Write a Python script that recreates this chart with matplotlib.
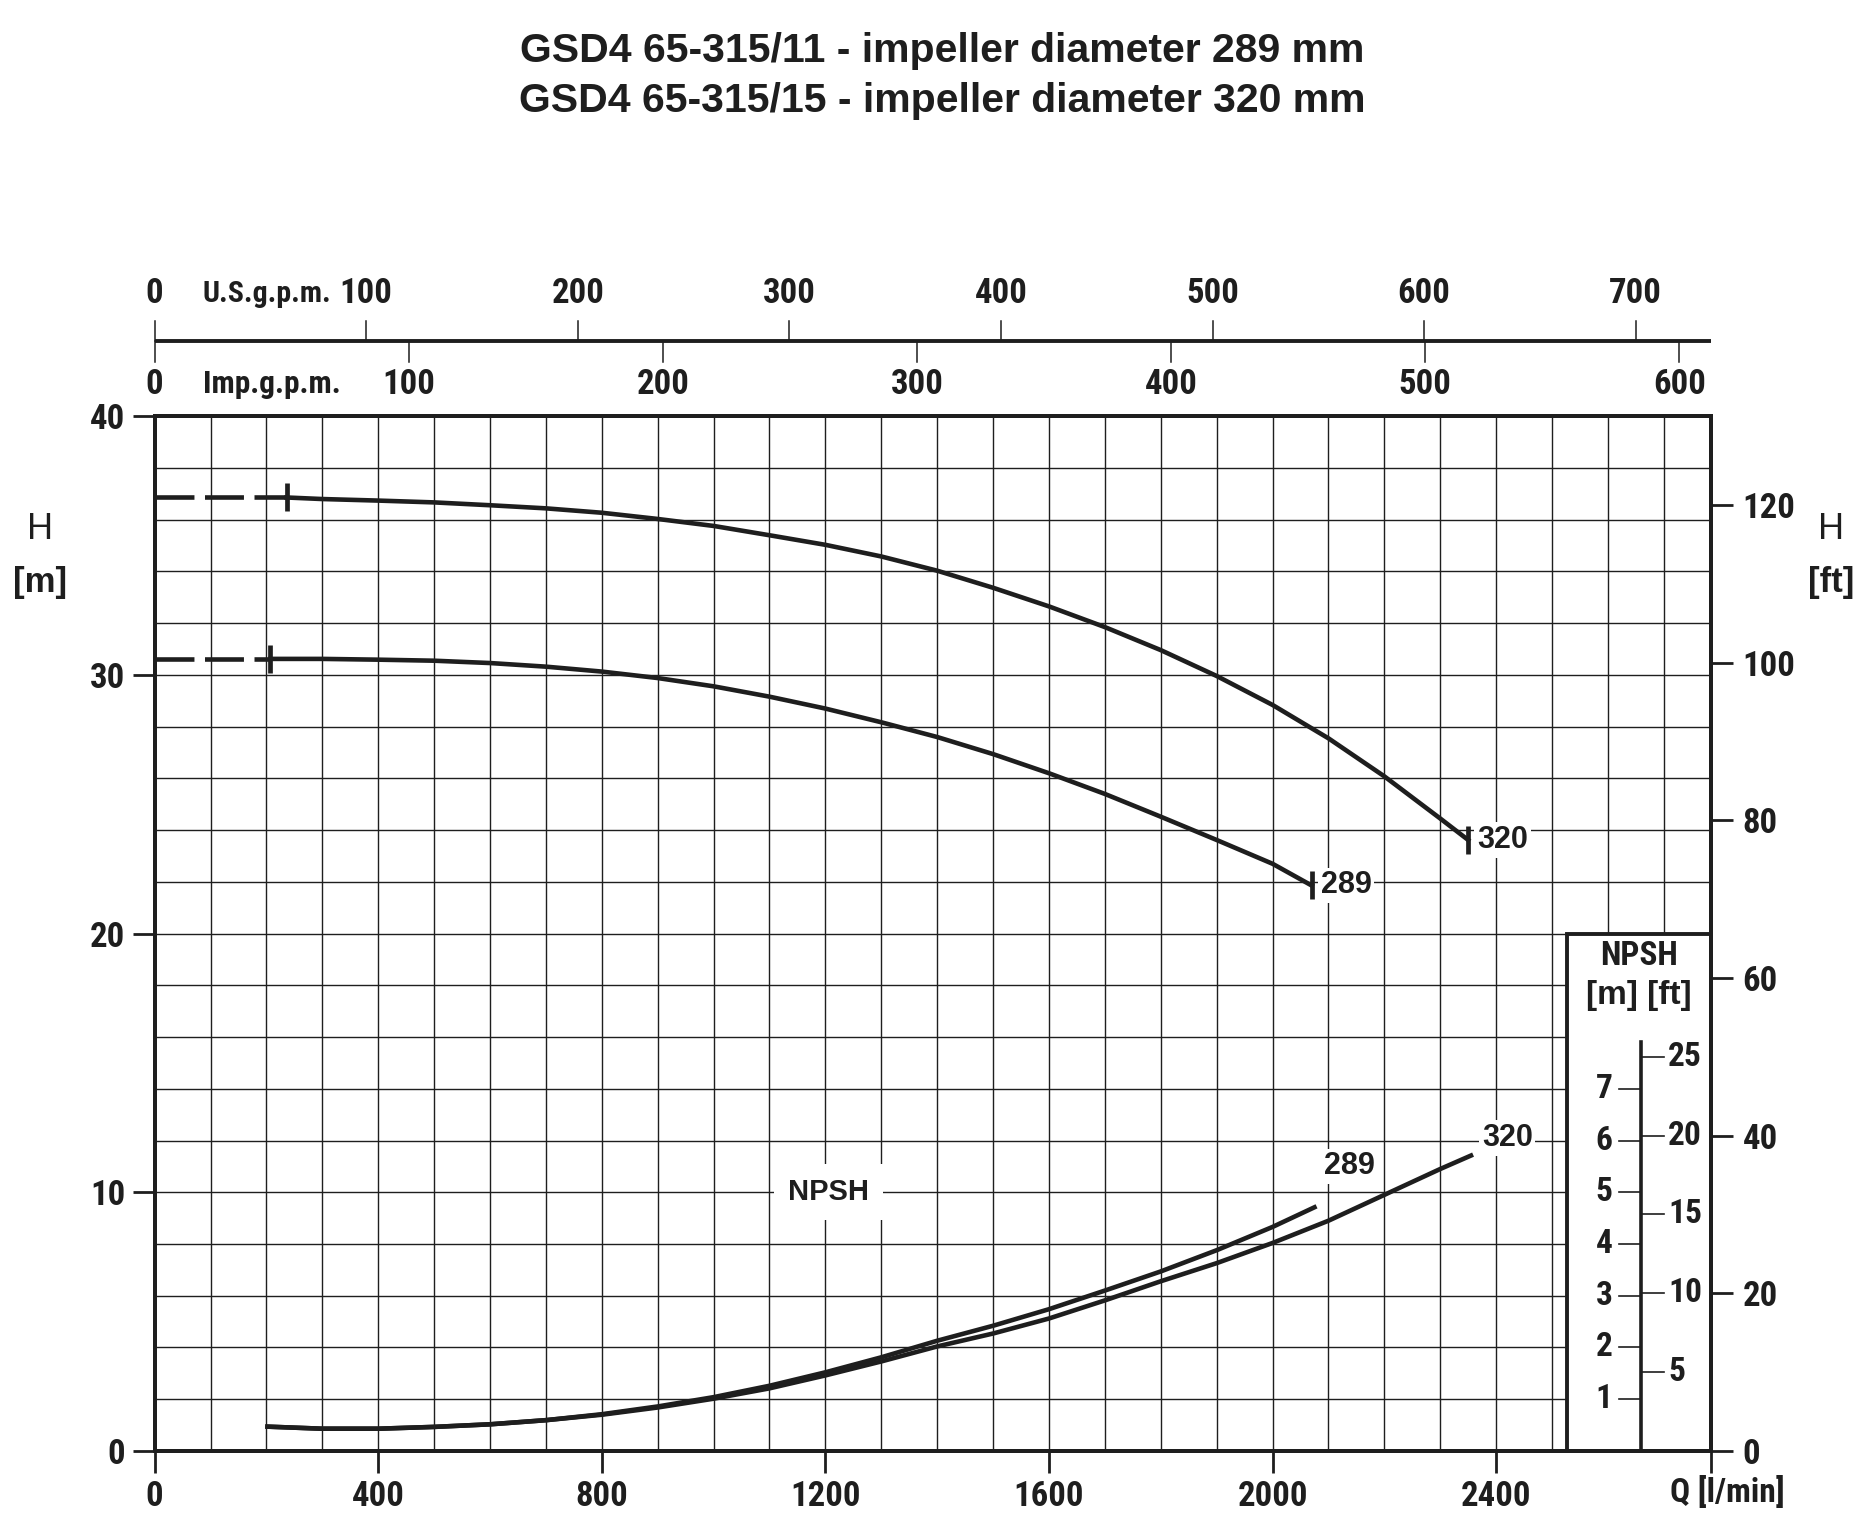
"""
Pump performance chart GSD4 65-315: H-Q and NPSH curves for two impeller
diameters, with U.S./Imp. gpm scales on top and feet scales on the right.
"""

import matplotlib
matplotlib.use("Agg")
import matplotlib.pyplot as plt
from matplotlib import font_manager
from matplotlib.patches import Rectangle
from matplotlib.ticker import MultipleLocator

# ---------------------------------------------------------------- data
TITLE_LINES = ["GSD4 65-315/11 - impeller diameter 289 mm",
               "GSD4 65-315/15 - impeller diameter 320 mm"]

# H-Q curve, impeller 320 mm  (Q in l/min, H in m)
Q_320 = [236, 300, 400, 500, 600, 700, 800, 900, 1000, 1100, 1200, 1300,
         1400, 1500, 1600, 1700, 1800, 1900, 2000, 2100, 2200, 2300, 2350]
H_320 = [36.86, 36.80, 36.74, 36.67, 36.56, 36.44, 36.27, 36.03, 35.76,
         35.40, 35.03, 34.58, 34.03, 33.37, 32.65, 31.85, 30.96, 29.96,
         28.84, 27.55, 26.08, 24.45, 23.62]

# H-Q curve, impeller 289 mm
Q_289 = [207, 300, 400, 500, 600, 700, 800, 900, 1000, 1100, 1200, 1300,
         1400, 1500, 1600, 1700, 1800, 1900, 2000, 2070]
H_289 = [30.62, 30.62, 30.59, 30.55, 30.46, 30.32, 30.13, 29.88, 29.56,
         29.16, 28.70, 28.17, 27.60, 26.94, 26.20, 25.40, 24.52, 23.62,
         22.70, 21.86]

# NPSH curves (NPSH in m)
QN_289 = [202, 300, 400, 500, 600, 700, 800, 900, 1000, 1100, 1200, 1300,
          1400, 1500, 1600, 1700, 1800, 1900, 2000, 2075]
NPSH_289 = [0.47, 0.43, 0.43, 0.465, 0.515, 0.595, 0.71, 0.86, 1.04, 1.26,
            1.52, 1.81, 2.13, 2.42, 2.74, 3.10, 3.47, 3.88, 4.33, 4.71]
QN_320 = [202, 300, 400, 500, 600, 700, 800, 900, 1000, 1100, 1200, 1300,
          1400, 1500, 1600, 1700, 1800, 1900, 2000, 2100, 2200, 2300, 2355]
NPSH_320 = [0.47, 0.43, 0.43, 0.465, 0.515, 0.595, 0.70, 0.84, 1.01, 1.21,
            1.46, 1.73, 2.02, 2.27, 2.56, 2.91, 3.28, 3.63, 4.02, 4.45,
            4.95, 5.45, 5.71]

Q_TICKS = [0, 400, 800, 1200, 1600, 2000, 2400]
H_TICKS = [0, 10, 20, 30, 40]
FT_TICKS = [0, 20, 40, 60, 80, 100, 120]
US_GPM_TICKS = [0, 100, 200, 300, 400, 500, 600, 700]
IMP_GPM_TICKS = [0, 100, 200, 300, 400, 500, 600]
NPSH_M_TICKS = [1, 2, 3, 4, 5, 6, 7]
NPSH_FT_TICKS = [5, 10, 15, 20, 25]

Q_MAX = 2784
H_MAX = 40
M_PER_FT = 0.3048
L_PER_US_GAL = 3.78541
L_PER_IMP_GAL = 4.54609
NPSH_SCALE = 2.0          # 1 m NPSH is drawn as 2 m on the H axis

INK = "#1e1e1e"


# ---------------------------------------------------------------------------
def pick_fonts():
    """Narrow face for the scale numbers, plain Arial-like face for the rest."""
    fonts = font_manager.fontManager.ttflist
    names = {f.name for f in fonts}
    wide = "Liberation Sans" if "Liberation Sans" in names else "DejaVu Sans"
    for cand in ["Liberation Sans Narrow", "Roboto Condensed",
                 "Open Sans Condensed"]:
        if cand in names:
            return cand, "normal", wide
    for f in fonts:
        if f.name == "DejaVu Sans" and f.stretch == "condensed":
            return "DejaVu Sans", "condensed", wide
    return wide, "normal", wide


NARROW, STRETCH, WIDE = pick_fonts()
plt.rcParams["font.family"] = NARROW
plt.rcParams["font.stretch"] = STRETCH
plt.rcParams["font.weight"] = "bold"
plt.rcParams["text.color"] = INK

NUM_SIZE = 25 if NARROW != WIDE else 20


# ---------------------------------------------------------------------------
def main():
    fig = plt.figure(figsize=(18.65, 15.27), dpi=100)
    ax = fig.add_axes([0.0829, 0.0498, 0.8344, 0.6776])
    ax.set_xlim(0, Q_MAX)
    ax.set_ylim(0, H_MAX)

    # main ticks + grid
    ax.set_xticks(Q_TICKS + [Q_MAX])
    ax.set_xticklabels([str(q) for q in Q_TICKS] + [""])
    ax.set_yticks(H_TICKS)
    ax.xaxis.set_minor_locator(MultipleLocator(100))
    ax.yaxis.set_minor_locator(MultipleLocator(2))
    ax.grid(which="both", color=INK, lw=1.0)
    ax.tick_params(which="minor", length=0)
    ax.tick_params(which="major", direction="out", length=16, width=2.0,
                   pad=5, labelsize=NUM_SIZE, colors=INK)
    for sp in ax.spines.values():
        sp.set_linewidth(2.8)
        sp.set_color(INK)

    # feet scale on the right
    ax2 = ax.twinx()
    ax2.set_ylim(0, H_MAX / M_PER_FT)
    ax2.set_yticks(FT_TICKS)
    ax2.tick_params(direction="out", length=16, width=2.0, pad=7,
                    labelsize=NUM_SIZE, colors=INK)
    for sp in ax2.spines.values():
        sp.set_linewidth(2.8)
        sp.set_color(INK)

    # ------------------------------------------------------------ H-Q curves
    lw = 3.3
    for q, h in [(Q_320, H_320), (Q_289, H_289)]:
        ax.plot([0, q[0]], [h[0], h[0]], color=INK, lw=lw,
                dashes=(8.5, 2.3), solid_capstyle="butt")
        ax.plot(q, h, color=INK, lw=lw, zorder=3)
        ax.plot([q[0], q[-1]], [h[0], h[-1]], ls="none", marker="|",
                ms=20, mew=3.4, color=INK, zorder=3)

    box = dict(facecolor="white", edgecolor="none", pad=2)
    ax.text(Q_289[-1] + 16, H_289[-1], "289", ha="left", va="center",
            fontsize=22, family=WIDE, bbox=box, zorder=4)
    ax.text(Q_320[-1] + 16, H_320[-1], "320", ha="left", va="center",
            fontsize=22, family=WIDE, bbox=box, zorder=4)

    # ------------------------------------------------------------ NPSH curves
    ax.plot(QN_320, [v * NPSH_SCALE for v in NPSH_320], color=INK, lw=lw, zorder=3)
    ax.plot(QN_289, [v * NPSH_SCALE for v in NPSH_289], color=INK, lw=lw, zorder=3)
    ax.text(2138, 11.0, "289", ha="center", va="center", fontsize=22,
            family=WIDE, bbox=box, zorder=4)
    ax.text(2420, 12.1, "320", ha="center", va="center", fontsize=22,
            family=WIDE, bbox=box, zorder=4)
    ax.text(1205, 10.0, "NPSH", ha="center", va="center", fontsize=21,
            family=WIDE, bbox=dict(facecolor="white", edgecolor="none", pad=10),
            zorder=4)

    # ------------------------------------------------------------ NPSH scale box
    box_left, inner_x = 2527, 2660
    ax.add_patch(Rectangle((box_left, 0), Q_MAX - box_left, 20,
                           facecolor="white", edgecolor=INK, lw=2.8, zorder=1.8))
    ax.plot([inner_x, inner_x], [0, 15.8], color=INK, lw=2.6, zorder=2.5)
    for m in NPSH_M_TICKS:
        y = m * NPSH_SCALE
        ax.plot([inner_x - 40, inner_x], [y, y], color=INK, lw=1.2, zorder=2.5)
        ax.text(inner_x - 52, y, str(m), ha="right", va="center",
                fontsize=NUM_SIZE - 1)
    for ft in NPSH_FT_TICKS:
        y = ft * M_PER_FT * NPSH_SCALE
        ax.plot([inner_x, inner_x + 40], [y, y], color=INK, lw=1.2, zorder=2.5)
        ax.text(inner_x + 48, y, str(ft), ha="left", va="center",
                fontsize=NUM_SIZE - 1)
    ax.text(2655, 19.15, "NPSH", ha="center", va="center", fontsize=24)
    ax.text(2655, 17.6, "[m] [ft]", ha="center", va="center", fontsize=24,
            family=WIDE)

    # ------------------------------------------------------------ gpm scales on top
    y_line = 42.9
    ax.plot([0, Q_MAX], [y_line, y_line], color=INK, lw=2.8, clip_on=False,
            solid_capstyle="butt")
    for g in US_GPM_TICKS:
        q = g * L_PER_US_GAL
        ax.plot([q, q], [y_line, y_line + 0.8], color=INK, lw=1.1, clip_on=False)
        ax.text(q, 44.74, str(g), ha="center", va="center", fontsize=NUM_SIZE)
    for g in IMP_GPM_TICKS:
        q = g * L_PER_IMP_GAL
        ax.plot([q, q], [y_line, y_line - 0.8], color=INK, lw=1.1, clip_on=False)
        ax.text(q, 41.24, str(g), ha="center", va="center", fontsize=NUM_SIZE)
    ax.text(86, 44.74, "U.S.g.p.m.", ha="left", va="center", fontsize=21.5)
    ax.text(86, 41.24, "Imp.g.p.m.", ha="left", va="center", fontsize=22.5)

    # ------------------------------------------------------------ axis captions
    for x, unit in [(0.0215, "[m]"), (0.982, "[ft]")]:
        fig.text(x, 0.6534, "H", ha="center", va="center", fontsize=26,
                 family=WIDE, weight="normal")
        fig.text(x, 0.6183, unit, ha="center", va="center", fontsize=25,
                 family=WIDE, weight="bold")
    fig.text(0.926, 0.0225, "Q [l/min]", ha="center", va="center", fontsize=24)

    fig.text(0.505, 0.9665, TITLE_LINES[0], ha="center", va="center",
             fontsize=29.5, family=WIDE, weight="bold")
    fig.text(0.505, 0.9338, TITLE_LINES[1], ha="center", va="center",
             fontsize=29.5, family=WIDE, weight="bold")

    fig.savefig("out.png", dpi=100, facecolor="white")
    plt.close(fig)


if __name__ == "__main__":
    main()
